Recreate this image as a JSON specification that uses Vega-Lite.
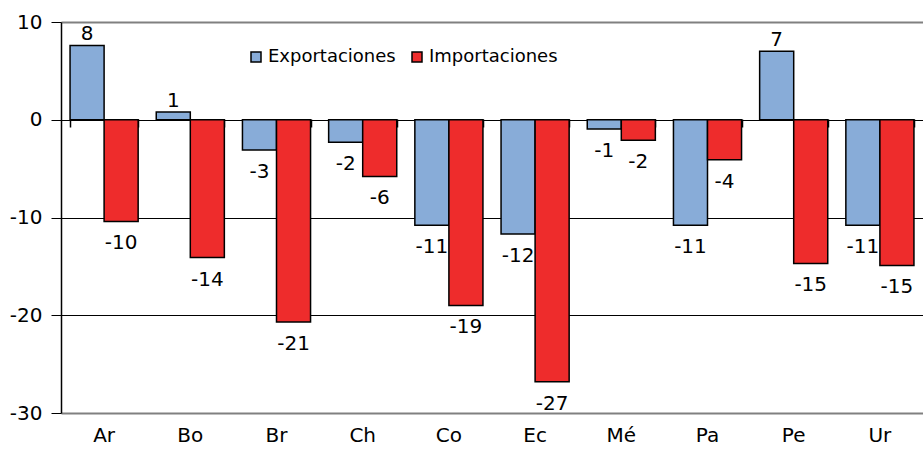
{
  "$schema": "https://vega.github.io/schema/vega-lite/v6.json",
  "autosize": "none",
  "width": 862,
  "height": 391,
  "padding": {"left": 61, "top": 22, "right": 0, "bottom": 38},
  "config": {
    "font": "DejaVu Sans",
    "view": {"stroke": null},
    "axis": {"labelFont": "DejaVu Sans", "labelColor": "black"},
    "legend": {"labelFont": "DejaVu Sans"},
    "locale": {"number": {"decimal": ".", "thousands": ",", "grouping": [3], "currency": ["$", ""], "minus": "-"}}
  },
  "data": {
    "values": [
      {"pais": "Ar", "serie": "Exportaciones", "valor": 7.6},
      {"pais": "Ar", "serie": "Importaciones", "valor": -10.4},
      {"pais": "Bo", "serie": "Exportaciones", "valor": 0.8},
      {"pais": "Bo", "serie": "Importaciones", "valor": -14.1},
      {"pais": "Br", "serie": "Exportaciones", "valor": -3.1},
      {"pais": "Br", "serie": "Importaciones", "valor": -20.7},
      {"pais": "Ch", "serie": "Exportaciones", "valor": -2.3},
      {"pais": "Ch", "serie": "Importaciones", "valor": -5.8},
      {"pais": "Co", "serie": "Exportaciones", "valor": -10.8},
      {"pais": "Co", "serie": "Importaciones", "valor": -19.0},
      {"pais": "Ec", "serie": "Exportaciones", "valor": -11.7},
      {"pais": "Ec", "serie": "Importaciones", "valor": -26.8},
      {"pais": "Mé", "serie": "Exportaciones", "valor": -0.95},
      {"pais": "Mé", "serie": "Importaciones", "valor": -2.1},
      {"pais": "Pa", "serie": "Exportaciones", "valor": -10.8},
      {"pais": "Pa", "serie": "Importaciones", "valor": -4.1},
      {"pais": "Pe", "serie": "Exportaciones", "valor": 7.0},
      {"pais": "Pe", "serie": "Importaciones", "valor": -14.7},
      {"pais": "Ur", "serie": "Exportaciones", "valor": -10.8},
      {"pais": "Ur", "serie": "Importaciones", "valor": -14.9}
    ]
  },
  "encoding": {
    "x": {
      "field": "pais", "type": "nominal", "sort": null,
      "scale": {"paddingInner": 0.21, "paddingOuter": 0.105}
    },
    "xOffset": {"field": "serie", "type": "nominal", "sort": ["Exportaciones", "Importaciones"]},
    "y": {
      "field": "valor", "type": "quantitative",
      "scale": {"domain": [-30, 10], "nice": false},
      "axis": {
        "title": null, "values": [10, 0, -10, -20, -30],
        "labelFontSize": 20, "labelPadding": 9,
        "tickSize": 10, "tickColor": "black", "domainColor": "black", "domainWidth": 1.5,
        "grid": true,
        "gridColor": {"condition": {"test": "datum.value == 10 || datum.value == -30", "value": "#808080"}, "value": "black"},
        "gridWidth": {"condition": {"test": "datum.value == 10 || datum.value == -30", "value": 2}, "value": 1}
      }
    }
  },
  "layer": [
    {
      "mark": {"type": "bar", "stroke": "black", "strokeWidth": 1.5},
      "encoding": {
        "x": {
          "field": "pais", "type": "nominal", "sort": null,
          "axis": {"title": null, "ticks": false, "domain": false, "labelFontSize": 20, "labelPadding": 12, "labelAngle": 0}
        },
        "color": {
          "field": "serie", "type": "nominal",
          "scale": {"domain": ["Exportaciones", "Importaciones"], "range": ["#88acd8", "#ee2c2c"]},
          "legend": {
            "title": null, "orient": "none", "legendX": 186, "legendY": 26,
            "direction": "horizontal", "symbolType": "square", "symbolSize": 100,
            "symbolStrokeColor": "black", "symbolStrokeWidth": 1.5,
            "labelFontSize": 18, "labelColor": "black", "labelOffset": 3, "columnPadding": 12
          }
        }
      }
    },
    {
      "transform": [{"filter": "datum.valor >= 0"}],
      "mark": {"type": "text", "baseline": "bottom", "dy": -1, "fontSize": 20, "color": "black"},
      "encoding": {
        "x": {"field": "pais", "type": "nominal", "sort": null, "axis": null},
        "text": {"field": "valor", "type": "quantitative", "format": ".0f"}
      }
    },
    {
      "transform": [{"filter": "datum.valor < 0"}],
      "mark": {"type": "text", "baseline": "top", "dy": 12, "fontSize": 20, "color": "black"},
      "encoding": {
        "x": {
          "field": "pais", "type": "nominal", "sort": null,
          "axis": {"title": null, "orient": "bottom", "offset": -294, "labels": false, "domain": false,
                   "ticks": true, "tickBand": "extent", "tickSize": 8, "tickColor": "black", "tickWidth": 1.5, "grid": false}
        },
        "text": {"field": "valor", "type": "quantitative", "format": ".0f"}
      }
    }
  ],
  "resolve": {"axis": {"x": "independent"}}
}
